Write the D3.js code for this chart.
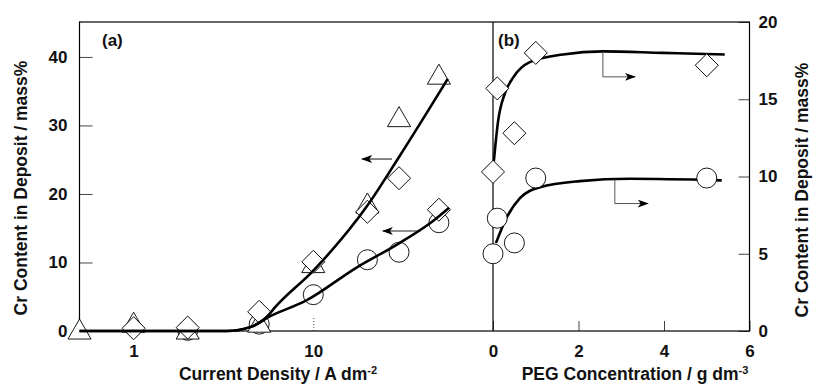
<!DOCTYPE html>
<html>
<head>
<meta charset="utf-8">
<script src="https://cdn.jsdelivr.net/npm/d3@7"></script>
<style>
  body { margin: 0; background: #fff; }
  text { font-family: "Liberation Sans", Arial, sans-serif; font-weight: bold; fill: #111; }
</style>
</head>
<body>
<div id="chart"></div>
<script>
// ---- panel (a): Cr content vs current density (log x) ----
const densTri = [0.5, 1, 2, 5, 10, 20, 30, 50];
const crTri   = [-0.2, 0.8, -0.2, 0.8, 9.5, 18.2, 30.8, 37];
const densDia = [1, 2, 5, 10, 20, 30, 50];
const crDia   = [0.4, 0.5, 2.8, 10.1, 17.4, 22.3, 17.7];
const densCir = [2, 5, 10, 20, 30, 50];
const crCir   = [0.1, 1.0, 5.3, 10.4, 11.5, 15.8];

// fitted curves
const fitUpX = [0.5, 3.3, 4.5, 5.5, 6.1, 10, 20, 30, 56];
const fitUpY = [0, 0, 0.6, 2.0, 3.4, 8.8, 18.3, 25.4, 36.8];
const fitLoX = [0.5, 3.3, 4.5, 5.5, 9.2, 17.5, 30, 45, 57];
const fitLoY = [0, 0, 0.6, 1.9, 4.5, 9.3, 12.8, 15.8, 18];

// left-pointing arrows (data units of panel a)
const arrowsA = [
  { y: 25.1, from: 27.4, to: 18.7 },
  { y: 14.6, from: 38, to: 24.4 }
];

// ---- panel (b): Cr content vs PEG concentration ----
const pegDia = [0, 0.1, 0.5, 1, 5];
const crPegDia = [10.3, 15.7, 12.8, 18.0, 17.2];
const pegCir = [0, 0.1, 0.5, 1, 5];
const crPegCir = [5.0, 7.3, 5.7, 9.9, 9.9];

const fitPegUpX = [0.02, 0.12, 0.28, 0.47, 0.86, 1.64, 2.57, 3.97, 5.42];
const fitPegUpY = [11, 13.6, 15.4, 16.4, 17.4, 17.9, 18.1, 18.0, 17.9];
const fitPegLoX = [0.07, 0.33, 0.63, 1.1, 2.03, 3.2, 5.35];
const fitPegLoY = [5.7, 7.4, 8.6, 9.3, 9.7, 9.85, 9.75];

// elbow arrows pointing to the right-hand axis
const arrowsB = [
  { x: 2.57, y1: 18.1, y2: 16.45, to: 3.32 },
  { x: 2.85, y1: 9.8, y2: 8.25, to: 3.62 }
];

const leftTicks = [0, 10, 20, 30, 40];
const rightTicks = [0, 5, 10, 15, 20];
const densTicks = [1, 10];
const pegTicks = [0, 2, 4, 6];

const W = 813, H = 385;
const plotTop = 22, plotBottom = 331;
const leftX = 79.5, midX = 493, rightX = 749.5;

const svg = d3.select("#chart").append("svg")
    .attr("width", W)
    .attr("height", H);

svg.append("defs").append("marker")
    .attr("id", "arr")
    .attr("viewBox", "0 -5 10 10")
    .attr("refX", 9)
    .attr("refY", 0)
    .attr("markerWidth", 11)
    .attr("markerHeight", 11)
    .attr("markerUnits", "userSpaceOnUse")
    .attr("orient", "auto")
    .append("path")
    .attr("d", "M0,-3.6L10,0L0,3.6L2.5,0Z")
    .attr("fill", "#000");

// scales
const xA = d3.scaleLog().domain([0.5, 100]).range([leftX, midX]);
const yA = d3.scaleLinear().domain([0, 45.1]).range([plotBottom, plotTop]);
const xB = d3.scaleLinear().domain([0, 6]).range([midX, rightX]);
const yB = d3.scaleLinear().domain([0, 20]).range([plotBottom, plotTop]);

const zip = (xs, ys) => xs.map((v, i) => [v, ys[i]]);

// axes (inward ticks)
function styleAxis(g) {
  g.select(".domain").remove();
  g.selectAll(".tick line").attr("stroke", "#444").attr("stroke-width", 1);
  g.selectAll(".tick text").style("font-size", "17px").attr("fill", "#111");
}

svg.append("g")
    .attr("transform", `translate(${leftX},0)`)
    .call(d3.axisLeft(yA).tickValues(leftTicks).tickSizeInner(-13).tickSizeOuter(0).tickPadding(12))
    .call(styleAxis);

svg.append("g")
    .attr("transform", `translate(0,${plotBottom})`)
    .call(d3.axisBottom(xA).tickValues(densTicks).tickFormat(d3.format("d")).tickSizeInner(-14).tickSizeOuter(0).tickPadding(14))
    .call(styleAxis)
    .call(g => g.selectAll(".tick line").attr("stroke-dasharray", "1,2"));

svg.append("g")
    .attr("transform", `translate(0,${plotBottom})`)
    .call(d3.axisBottom(xB).tickValues(pegTicks).tickFormat(d3.format("d")).tickSizeInner(-10).tickSizeOuter(0).tickPadding(14))
    .call(styleAxis);

svg.append("g")
    .attr("transform", `translate(${rightX},0)`)
    .call(d3.axisRight(yB).tickValues(rightTicks).tickSizeInner(-11).tickSizeOuter(0).tickPadding(9))
    .call(styleAxis);

// frame and panel divider
svg.append("rect")
    .attr("x", leftX).attr("y", plotTop)
    .attr("width", rightX - leftX).attr("height", plotBottom - plotTop)
    .attr("fill", "none").attr("stroke", "#000").attr("stroke-width", 1.2);
svg.append("line")
    .attr("x1", midX).attr("x2", midX).attr("y1", plotTop).attr("y2", plotBottom)
    .attr("stroke", "#000").attr("stroke-width", 1.2);

// markers
const triSym = d3.symbol().type(d3.symbolTriangle).size(231);
const diaSym = d3.symbol().type(d3.symbolSquare).size(265);

function drawCircles(pts, xs, ys) {
  svg.append("g").selectAll("circle")
      .data(pts).join("circle")
      .attr("cx", d => xs(d[0])).attr("cy", d => ys(d[1])).attr("r", 10)
      .attr("fill", "#fff").attr("stroke", "#000").attr("stroke-width", 0.9);
}
function drawTriangles(pts, xs, ys) {
  svg.append("g").selectAll("path")
      .data(pts).join("path")
      .attr("d", triSym)
      .attr("transform", d => `translate(${xs(d[0])},${ys(d[1])})`)
      .attr("fill", "#fff").attr("stroke", "#000").attr("stroke-width", 0.9);
}
function drawDiamonds(pts, xs, ys) {
  svg.append("g").selectAll("path")
      .data(pts).join("path")
      .attr("d", diaSym)
      .attr("transform", d => `translate(${xs(d[0])},${ys(d[1])}) rotate(45)`)
      .attr("fill", "#fff").attr("stroke", "#000").attr("stroke-width", 0.9);
}
function drawFit(pts, xs, ys) {
  svg.append("path")
      .datum(pts)
      .attr("d", d3.line().x(d => xs(d[0])).y(d => ys(d[1])).curve(d3.curveMonotoneX))
      .attr("fill", "none").attr("stroke", "#000").attr("stroke-width", 2.6);
}

// panel (a): markers first, curves on top
drawCircles(zip(densCir, crCir), xA, yA);
drawTriangles(zip(densTri, crTri), xA, yA);
drawDiamonds(zip(densDia, crDia), xA, yA);
drawFit(zip(fitUpX, fitUpY), xA, yA);
drawFit(zip(fitLoX, fitLoY), xA, yA);

svg.append("g").selectAll("line")
    .data(arrowsA).join("line")
    .attr("x1", d => xA(d.from)).attr("x2", d => xA(d.to))
    .attr("y1", d => yA(d.y)).attr("y2", d => yA(d.y))
    .attr("stroke", "#222").attr("stroke-width", 1.1)
    .attr("marker-end", "url(#arr)");

// panel (b): curves first, markers on top
drawFit(zip(fitPegUpX, fitPegUpY), xB, yB);
drawFit(zip(fitPegLoX, fitPegLoY), xB, yB);
drawCircles(zip(pegCir, crPegCir), xB, yB);
drawDiamonds(zip(pegDia, crPegDia), xB, yB);

svg.append("g").selectAll("path")
    .data(arrowsB).join("path")
    .attr("d", d => `M${xB(d.x)},${yB(d.y1)}V${yB(d.y2)}H${xB(d.to)}`)
    .attr("fill", "none").attr("stroke", "#555").attr("stroke-width", 1)
    .attr("marker-end", "url(#arr)");

// panel labels
svg.append("text").attr("x", 102).attr("y", 46).style("font-size", "17px").text("(a)");
svg.append("text").attr("x", 498).attr("y", 46).style("font-size", "17px").text("(b)");

// axis titles
const xTitleA = svg.append("text")
    .attr("x", 278).attr("y", 380)
    .attr("text-anchor", "middle")
    .style("font-size", "17.5px")
    .text("Current Density / A dm");
xTitleA.append("tspan").attr("dy", -6).style("font-size", "11px").text("-2");

const xTitleB = svg.append("text")
    .attr("x", 635).attr("y", 380)
    .attr("text-anchor", "middle")
    .style("font-size", "17.5px")
    .text("PEG Concentration / g dm");
xTitleB.append("tspan").attr("dy", -6).style("font-size", "11px").text("-3");

svg.append("text")
    .attr("transform", "translate(27,188) rotate(-90)")
    .attr("text-anchor", "middle")
    .style("font-size", "17.5px")
    .text("Cr Content in Deposit / mass%");

svg.append("text")
    .attr("transform", "translate(808,190) rotate(-90)")
    .attr("text-anchor", "middle")
    .style("font-size", "17.5px")
    .text("Cr Content in Deposit / mass%");
</script>
</body>
</html>
